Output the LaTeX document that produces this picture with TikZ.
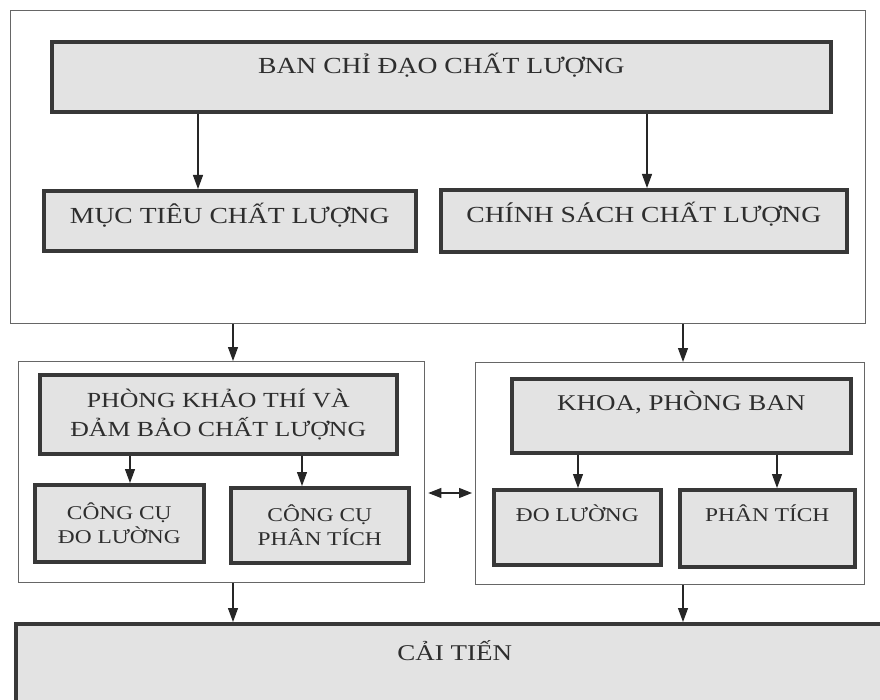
\documentclass[tikz,border=0pt]{standalone}
\usepackage{fontspec}
\setmainfont{Liberation Serif}[FakeStretch=1.2]
\usetikzlibrary{arrows.meta}
\begin{document}
\begin{tikzpicture}[x=1pt,y=-1pt,
  container/.style={draw=black!60, line width=1.3pt, fill=white, inner sep=0pt, anchor=north west},
  tbox/.style={draw=black!78, line width=3.6pt, fill=black!11, inner sep=0pt, anchor=north west, text=black!82},
  arr/.style={draw=black!85, line width=1.1pt, -{Triangle[length=14pt,width=10pt]}},
  dbl/.style={draw=black!85, line width=1.1pt, {Triangle[length=13pt,width=10pt]}-{Triangle[length=13pt,width=10pt]}, shorten <=3pt, shorten >=3pt},
  fbig/.style={font=\fontsize{23}{28}\selectfont},
  fmid/.style={font=\fontsize{21.5}{29}\selectfont},
  fsub/.style={font=\fontsize{19.5}{24}\selectfont}
]
\useasboundingbox (0,0) rectangle (880,700);
\fill[white] (0,0) rectangle (880,700);
\clip (0,0) rectangle (880,700);

% top container
\node[container, minimum width=855pt, minimum height=313pt] (outer) at (10,10) {};
\node[tbox, fbig, minimum width=779pt, text height=32pt, text depth=38pt] (ban) at (50,40) {BAN CHỈ ĐẠO CHẤT LƯỢNG};
\node[tbox, fbig, minimum width=372pt, text height=33pt, text depth=27pt] (muc) at (42,189) {MỤC TIÊU CHẤT LƯỢNG};
\node[tbox, fbig, minimum width=406pt, text height=32.7pt, text depth=29.3pt] (chinh) at (439,188) {CHÍNH SÁCH CHẤT LƯỢNG};

% middle containers
\node[container, minimum width=406pt, minimum height=221pt] (midL) at (18,361) {};
\node[container, minimum width=389pt, minimum height=222pt] (midR) at (475,362) {};

\node[tbox, fmid, align=center, minimum width=357pt, minimum height=79pt] (phong) at (38,373) {PHÒNG KHẢO THÍ VÀ\\ĐẢM BẢO CHẤT LƯỢNG};
\node[tbox, font=\fontsize{22.5}{28}\selectfont, minimum width=339pt, text height=31.3pt, text depth=42.7pt] (khoa) at (510,377) {KHOA, PHÒNG BAN};

\node[tbox, fsub, align=center, minimum width=169pt, minimum height=77pt] (cc1) at (33,483) {CÔNG CỤ\\ĐO LƯỜNG};
\node[tbox, fsub, align=center, minimum width=178pt, minimum height=75pt] (cc2) at (229,486) {CÔNG CỤ\\PHÂN TÍCH};
\node[tbox, fsub, minimum width=167pt, text height=32pt, text depth=43pt] (do) at (492,488) {ĐO LƯỜNG};
\node[tbox, fsub, minimum width=175pt, text height=32pt, text depth=45pt] (pt) at (678,488) {PHÂN TÍCH};

% bottom
\node[tbox, font=\fontsize{22.5}{28}\selectfont, minimum width=878pt, text height=36.3pt, text depth=70pt] (cai) at (14,622) {CẢI TIẾN};

% x positions of connectors
\coordinate (xa) at (198,0);
\coordinate (xb) at (647,0);
\coordinate (xl) at (233,0);
\coordinate (xr) at (683,0);
\coordinate (xc) at (130,0);
\coordinate (xd) at (302,0);
\coordinate (xe) at (578,0);
\coordinate (xf) at (777,0);
\coordinate (yd) at (0,493);

\draw[arr] (ban.south -| xa) -- (muc.north -| xa);
\draw[arr] (ban.south -| xb) -- (chinh.north -| xb);
\draw[arr] (outer.south -| xl) -- (midL.north -| xl);
\draw[arr] (outer.south -| xr) -- (midR.north -| xr);
\draw[arr] (phong.south -| xc) -- (cc1.north -| xc);
\draw[arr] (phong.south -| xd) -- (cc2.north -| xd);
\draw[arr] (khoa.south -| xe) -- (do.north -| xe);
\draw[arr] (khoa.south -| xf) -- (pt.north -| xf);
\draw[dbl] (midL.east |- yd) -- (midR.west |- yd);
\draw[arr] (midL.south -| xl) -- (cai.north -| xl);
\draw[arr] (midR.south -| xr) -- (cai.north -| xr);
\end{tikzpicture}
\end{document}
